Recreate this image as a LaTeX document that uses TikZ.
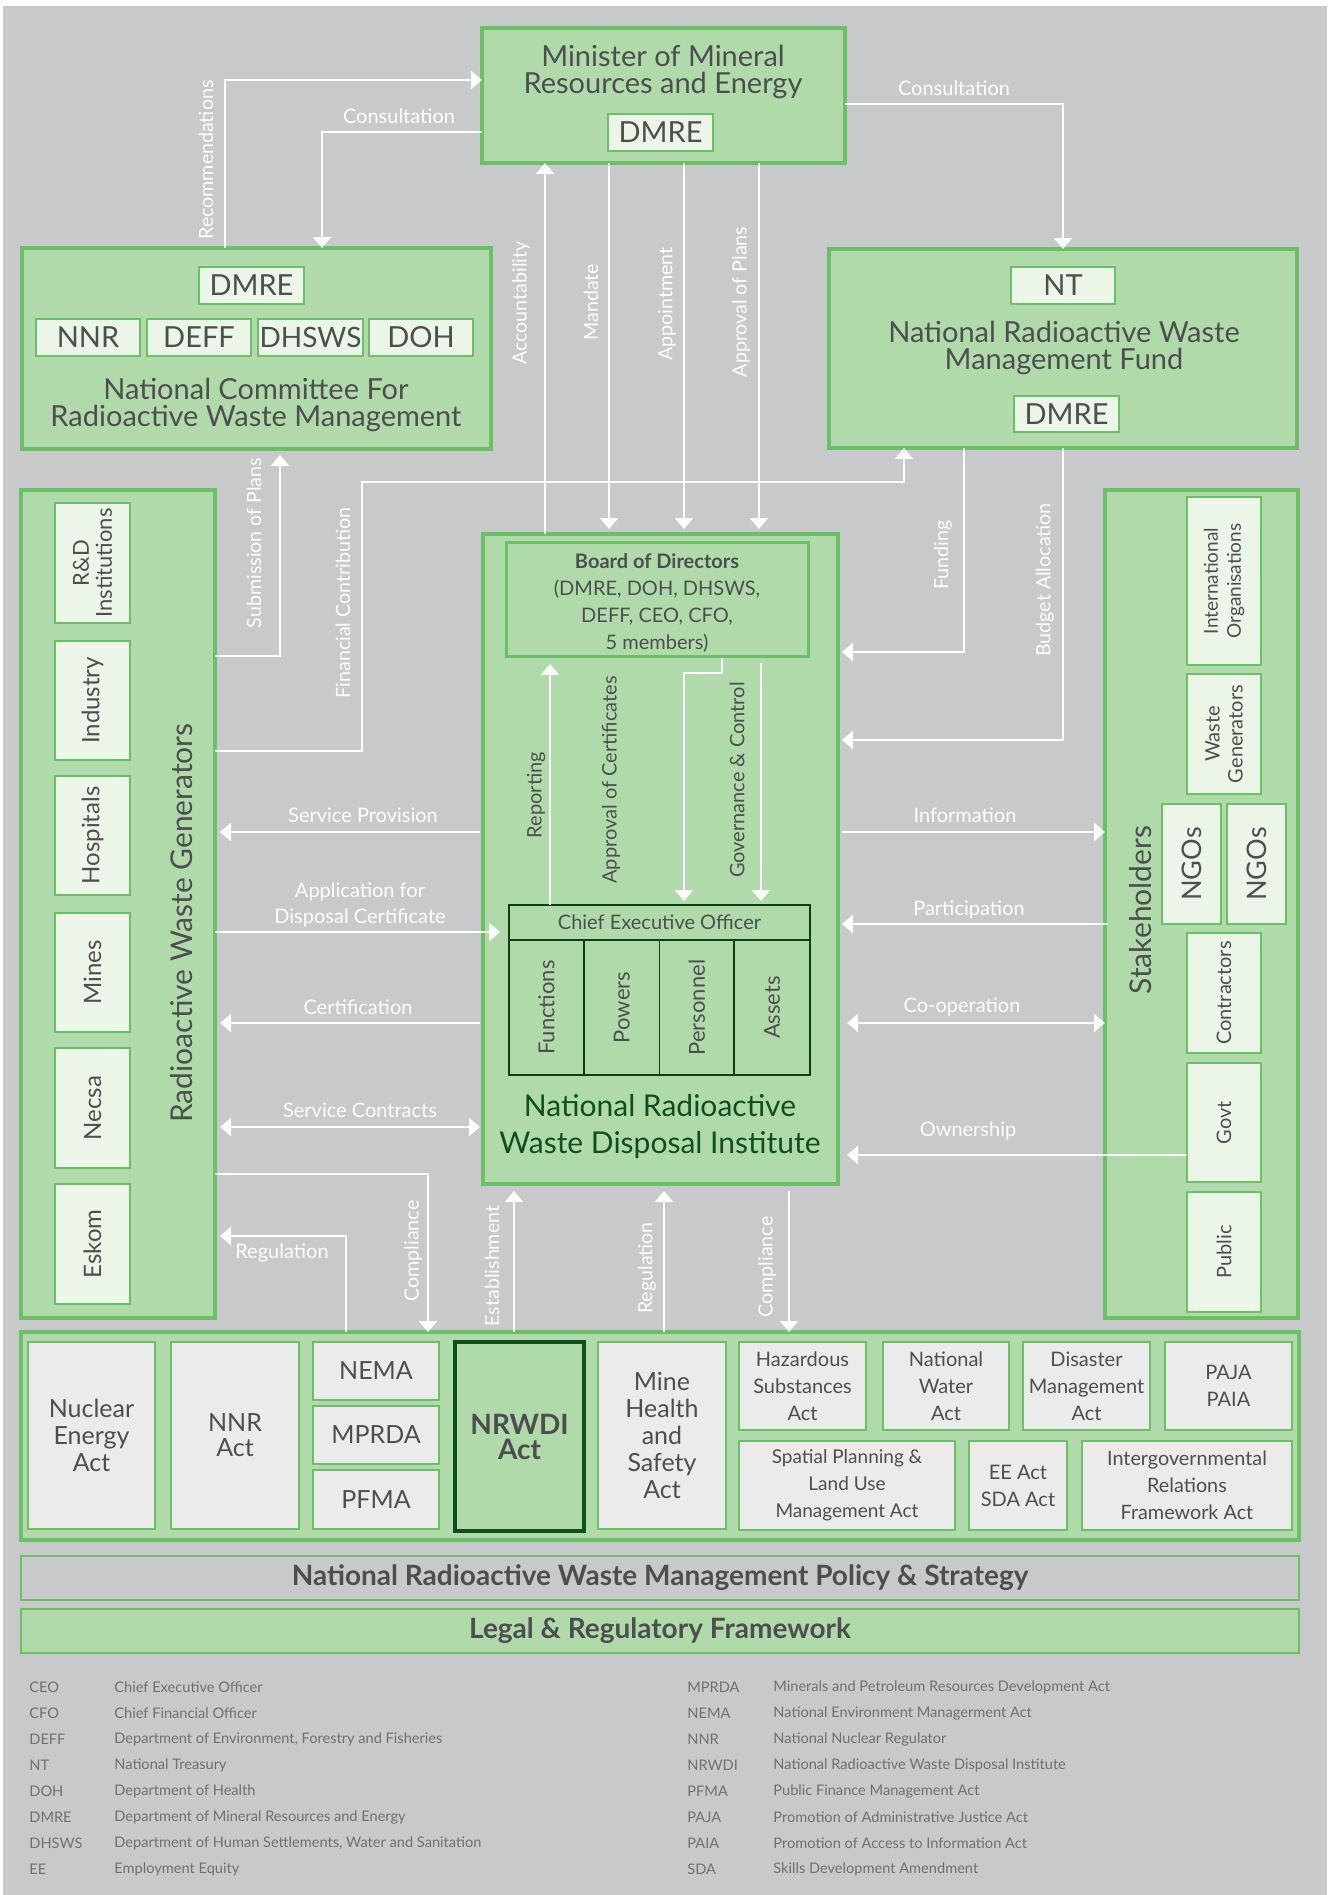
\documentclass[tikz,border=0pt]{standalone}
\usepackage{fontspec}
\setmainfont{Lato}
\usetikzlibrary{arrows.meta}
\definecolor{bg}{HTML}{C8C9CB}
\definecolor{gfill}{HTML}{B1DAAB}
\definecolor{gbord}{HTML}{6ABF67}
\definecolor{glight}{HTML}{EBF5E8}
\definecolor{actg}{HTML}{EBEBEB}
\definecolor{tx}{HTML}{4D4E50}
\definecolor{dkg}{HTML}{0D4F21}
\definecolor{lg}{HTML}{6F7072}
\newcommand\fsz[2]{\fontsize{#1pt}{#2pt}\selectfont}
\newcommand\bx[7]{\node[#6, minimum width={(#4-#2)*0.5pt}, minimum height={(#5-#3)*0.5pt}, inner sep=0pt, outer sep=0pt] (#1) at ({(#2+#4)/2},{(#3+#5)/2}) {#7};}
\begin{document}
\begin{tikzpicture}[x=0.5pt,y=-0.5pt,
  cont/.style={draw=gbord, fill=gfill, line width=1.8pt},
  sub/.style={draw=gbord, fill=glight, line width=0.9pt, text=tx, align=center},
  act/.style={draw=gbord, fill=actg, line width=0.9pt, text=tx, align=center},
  arr/.style={draw=white, line width=1.35pt, -{Triangle[width=9pt,length=5.5pt]}},
  darr/.style={draw=white, line width=1.35pt, {Triangle[width=9pt,length=5.5pt]}-{Triangle[width=9pt,length=5.5pt]}},
  wl/.style={text=white, inner sep=0pt, align=center, font=\fsz{10}{13}},
  wr/.style={text=white, inner sep=0pt, rotate=90, font=\fsz{9.8}{11}},
  gr/.style={text=tx, inner sep=0pt, rotate=90, align=center, font=\fsz{10}{11}},
  ttl/.style={text=tx, inner sep=0pt, align=center, font=\fsz{14.5}{13.5}},
  leg/.style={text=lg, inner sep=0pt, anchor=west, font=\fsz{7.3}{9}}
]
\useasboundingbox (0,0) rectangle (1330,1895);
\fill[white] (0,0) rectangle (1330,1895);
\fill[bg] (3,6) rectangle (1327,1895);

% ---------- Minister ----------
\bx{min}{482}{28}{845}{163}{cont}{}
\node[ttl] (mint) at (663,72) {Minister of Mineral\\Resources and Energy};
\bx{mind}{608}{114}{713}{151}{sub, font=\fsz{14.5}{14}}{DMRE}

% ---------- National Committee ----------
\bx{nc}{22}{248}{491}{449}{cont}{}
\bx{ncd}{199}{267}{304}{304}{sub, font=\fsz{14.5}{14}}{DMRE}
\bx{ncnnr}{36}{319}{140}{356}{sub, font=\fsz{14.5}{14}}{NNR}
\bx{ncdeff}{147}{319}{251}{356}{sub, font=\fsz{14.5}{14}}{DEFF}
\bx{ncdh}{258}{319}{363}{356}{sub, font=\fsz{14}{14}}{DHSWS}
\bx{ncdoh}{369}{319}{473}{356}{sub, font=\fsz{14.5}{14}}{DOH}
\node[ttl] (nct) at (256,405) {National Committee For\\Radioactive Waste Management};

% ---------- Fund ----------
\bx{fund}{829}{249}{1297}{448}{cont}{}
\bx{fnt}{1011}{267}{1115}{304}{sub, font=\fsz{14.5}{14}}{NT}
\node[ttl] (fundt) at (1064,348) {National Radioactive Waste\\Management Fund};
\bx{fdm}{1014}{396}{1119}{432}{sub, font=\fsz{14.5}{14}}{DMRE}

% ---------- Radioactive Waste Generators ----------
\bx{rwg}{21}{490}{215}{1318}{cont}{}
\bx{rd}{55}{503}{130}{623}{sub}{}
\bx{ind}{55}{641}{130}{760}{sub}{}
\bx{hos}{55}{776}{130}{895}{sub}{}
\bx{mines}{55}{913}{130}{1032}{sub}{}
\bx{necsa}{55}{1048}{130}{1168}{sub}{}
\bx{eskom}{55}{1184}{130}{1304}{sub}{}
\node[gr, font=\fsz{11}{11.5}] (rdt) at (rd) {R\&D\\Institutions};
\node[gr, font=\fsz{12}{12}] (indt) at (ind) {Industry};
\node[gr, font=\fsz{12}{12}] (host) at (hos) {Hospitals};
\node[gr, font=\fsz{12}{12}] (minest) at (mines) {Mines};
\node[gr, font=\fsz{12}{12}] (necsat) at (necsa) {Necsa};
\node[gr, font=\fsz{12}{12}] (eskomt) at (eskom) {Eskom};
\node[gr, font=\fsz{15}{15}] (rwgt) at (182,923) {Radioactive Waste Generators};

% ---------- Stakeholders ----------
\bx{stk}{1105}{490}{1298}{1318}{cont}{}
\bx{intl}{1187}{497}{1261}{665}{sub}{}
\bx{wgen}{1187}{674}{1261}{794}{sub}{}
\bx{ngo1}{1162}{804}{1221}{924}{sub}{}
\bx{ngo2}{1227}{804}{1286}{924}{sub}{}
\bx{contr}{1187}{933}{1261}{1053}{sub}{}
\bx{govt}{1187}{1063}{1261}{1182}{sub}{}
\bx{pub}{1187}{1192}{1261}{1312}{sub}{}
\node[gr, font=\fsz{9.5}{11.5}] (intlt) at (intl) {International\\Organisations};
\node[gr, font=\fsz{10}{11.5}] (wgent) at (wgen) {Waste\\Generators};
\node[gr, font=\fsz{13.5}{13}] (ngo1t) at (ngo1) {NGOs};
\node[gr, font=\fsz{13.5}{13}] (ngo2t) at (ngo2) {NGOs};
\node[gr, font=\fsz{10}{11}] (contrt) at (contr) {Contractors};
\node[gr, font=\fsz{10}{11}] (govtt) at (govt) {Govt};
\node[gr, font=\fsz{10}{11}] (pubt) at (pub) {Public};
\node[gr, font=\fsz{15}{15}] (stkt) at (1141,910) {Stakeholders};

% ---------- NRWDI ----------
\bx{nrwdi}{483}{534}{838}{1184}{cont}{}
\bx{board}{506}{542}{808}{656}{draw=gbord, fill=gfill, line width=1.5pt}{}
\node[text=tx, align=center, inner sep=0pt, font=\fsz{10}{13.5}] (boardt) at (657,603) {\textbf{Board of Directors}\\(DMRE, DOH, DHSWS,\\DEFF, CEO, CFO,\\5 members)};
\bx{ceo}{509}{905}{810}{1075}{draw=dkg!80!black, line width=0.8pt}{}
\bx{ceoh}{509}{905}{810}{940}{draw=dkg!80!black, line width=0.8pt, text=tx, font=\fsz{10}{11}}{Chief Executive Officer}
\bx{cf}{509}{940}{584}{1075}{draw=dkg!80!black, line width=0.8pt}{}
\bx{cp}{584}{940}{659.5}{1075}{draw=dkg!80!black, line width=0.8pt}{}
\bx{cpe}{659.5}{940}{734}{1075}{draw=dkg!80!black, line width=0.8pt}{}
\bx{ca}{734}{940}{810}{1075}{draw=dkg!80!black, line width=0.8pt}{}
\node[gr, font=\fsz{11}{11}] (cft) at (cf) {Functions};
\node[gr, font=\fsz{11}{11}] (cpt) at (cp) {Powers};
\node[gr, font=\fsz{11}{11}] (cpet) at (cpe) {Personnel};
\node[gr, font=\fsz{11}{11}] (cat) at (ca) {Assets};
\node[ttl, text=dkg, font=\fsz{15}{18.5}] (nrwdit) at (660,1127) {National Radioactive\\Waste Disposal Institute};

% ---------- Acts ----------
\bx{acts}{21}{1332}{1299}{1540}{cont}{}
\bx{nea}{28}{1342}{155}{1529}{act, font=\fsz{12.5}{13.5}}{Nuclear\\Energy\\Act}
\bx{nnra}{171}{1342}{299}{1529}{act, font=\fsz{12.5}{12.5}}{NNR\\Act}
\bx{nema}{313}{1342}{439}{1400}{act, font=\fsz{12.5}{12.5}}{NEMA}
\bx{mprda}{313}{1406}{439}{1464}{act, font=\fsz{12.5}{12.5}}{MPRDA}
\bx{pfma}{313}{1470}{439}{1529}{act, font=\fsz{12.5}{12.5}}{PFMA}
\bx{nrwdia}{455}{1342}{584}{1531}{draw=dkg, fill=gfill, line width=1.6pt, text=tx, align=center, font=\bfseries\fsz{14}{12.5}}{NRWDI\\Act}
\bx{mhsa}{598}{1342}{726}{1529}{act, font=\fsz{12.5}{13.4}}{Mine\\Health\\and\\Safety\\Act}
\bx{hsa}{739}{1342}{866}{1430}{act, font=\fsz{10}{13.5}}{Hazardous\\Substances\\Act}
\bx{nwa}{883}{1342}{1009}{1430}{act, font=\fsz{10}{13.5}}{National\\Water\\Act}
\bx{dma}{1023}{1342}{1150}{1430}{act, font=\fsz{10}{13.5}}{Disaster\\Management\\Act}
\bx{paja}{1165}{1342}{1292}{1430}{act, font=\fsz{10}{13.5}}{PAJA\\PAIA}
\bx{spl}{739}{1441}{955}{1530}{act, font=\fsz{9.5}{13.5}}{Spatial Planning \&\\Land Use\\Management Act}
\bx{ee}{969}{1441}{1067}{1530}{act, font=\fsz{10}{13.5}}{EE Act\\SDA Act}
\bx{igr}{1082}{1441}{1292}{1530}{act, font=\fsz{9.9}{13.5}}{Intergovernmental\\Relations\\Framework Act}

\bx{policy}{21}{1556}{1299}{1600}{draw=gbord, fill=bg, line width=0.8pt, text=tx, font=\bfseries\fsz{14}{14}}{National Radioactive Waste Management Policy \& Strategy}
\bx{legal}{21}{1609}{1299}{1653}{draw=gbord, fill=gfill, line width=0.8pt, text=tx, font=\bfseries\fsz{14}{14}}{Legal \& Regulatory Framework}

% ---------- Connectors ----------
\draw[arr] (nc.north -| 225,0) |- (min.west |- 0,80);
\draw[arr] (min.west |- 0,132) -| (nc.north -| 322,0);
\draw[arr] (min.east |- 0,104) -| (fund.north);
\draw[arr] (nrwdi.north -| 545,0) -- (min.south -| 545,0);
\draw[arr, shorten >=2.5pt] (min.south -| 609,0) -- (nrwdi.north -| 609,0);
\draw[arr, shorten >=2.5pt] (min.south -| 684,0) -- (nrwdi.north -| 684,0);
\draw[arr, shorten >=2.5pt] (min.south -| 759,0) -- (nrwdi.north -| 759,0);
\draw[arr, shorten >=3pt] (rwg.east |- 0,656) -| (nc.south -| 280,0);
\coordinate (fcb) at (362,482);
\draw[arr] (rwg.east |- 0,751) -| (fcb) -| (fund.south -| 904,0);
\draw[arr, shorten >=2pt] (fund.south -| 964,0) |- (nrwdi.east |- 0,652);
\draw[arr, shorten >=2pt] (fund.south -| 1063,0) |- (nrwdi.east |- 0,740);
\draw[arr, shorten >=4pt] (ceo.north -| 550,0) -- (board.south -| 550,0);
\coordinate (acb) at (684,673);
\draw[arr, shorten <=1pt, shorten >=2pt] (board.south -| 722,0) |- (acb) -- (ceo.north -| 684,0);
\draw[arr, shorten <=3.5pt, shorten >=2pt] (board.south -| 761,0) -- (ceo.north -| 761,0);
\draw[arr, shorten <=1.5pt, shorten >=2.5pt] (nrwdi.west |- 0,832) -- (rwg.east |- 0,832);
\draw[arr, shorten >=4.5pt] (rwg.east |- 0,932) -- (ceo.west |- 0,932);
\draw[arr, shorten <=1.5pt, shorten >=2.5pt] (nrwdi.west |- 0,1023) -- (rwg.east |- 0,1023);
\draw[darr, shorten <=2.5pt, shorten >=1.5pt] (rwg.east |- 0,1127) -- (nrwdi.west |- 0,1127);
\draw[arr, shorten <=2pt] (nrwdi.east |- 0,832) -- (stk.west |- 0,832);
\draw[arr, shorten <=-1.5pt, shorten >=2pt] (stk.west |- 0,924) -- (nrwdi.east |- 0,924);
\draw[darr, shorten <=4.5pt] (nrwdi.east |- 0,1023) -- (stk.west |- 0,1023);
\draw[arr, shorten >=4.5pt] (govt.west |- 0,1155) -- (nrwdi.east |- 0,1155);
\draw[arr] (rwg.east |- 0,1174) -| (acts.north -| 428,0);
\draw[arr, shorten >=2.5pt] (acts.north -| 346,0) |- (rwg.east |- 0,1236);
\draw[arr, shorten >=3.5pt] (acts.north -| 514,0) -- (nrwdi.south -| 514,0);
\draw[arr, shorten >=3.5pt] (acts.north -| 664,0) -- (nrwdi.south -| 664,0);
\draw[arr, shorten <=3.5pt] (nrwdi.south -| 789,0) -- (acts.north -| 789,0);

% ---------- Connector labels ----------
\node[wr] (l1) at (206,160) {Recommendations};
\node[wl] (l2) at (399,116) {Consultation};
\node[wl] (l3) at (954,88) {Consultation};
\node[wr] (l4) at (521,303) {Accountability};
\node[wr] (l5) at (591,302) {Mandate};
\node[wr] (l6) at (667,304) {Appointment};
\node[wr] (l7) at (741,302) {Approval of Plans};
\node[wr] (l8) at (254,543) {Submission of Plans};
\node[wr] (l9) at (343,603) {Financial Contribution};
\node[wr] (l10) at (943,555) {Funding};
\node[wr] (l11) at (1045,580) {Budget Allocation};
\node[gr] (l12) at (536,795) {Reporting};
\node[gr] (l13) at (611,780) {Approval of Certificates};
\node[gr] (l14) at (737,780) {Governance \& Control};
\node[wl] (l15) at (363,815) {Service Provision};
\node[wl] (l16) at (360,905) {Application for\\Disposal Certificate};
\node[wl] (l17) at (358,1007) {Certification};
\node[wl] (l18) at (360,1110) {Service Contracts};
\node[wl] (l19) at (965,815) {Information};
\node[wl] (l20) at (969,910) {Participation};
\node[wl] (l21) at (962,1007) {Co-operation};
\node[wl] (l22) at (968,1131) {Ownership};
\node[wl] (l23) at (282,1253) {Regulation};
\node[wr] (l24) at (413,1251) {Compliance};
\node[wr] (l25) at (492,1266) {Establishment};
\node[wr] (l26) at (647,1268) {Regulation};
\node[wr] (l27) at (767,1267) {Compliance};

% ---------- Legend ----------
\foreach \a/\d [count=\i from 0] in {CEO/Chief Executive Officer, CFO/Chief Financial Officer, DEFF/{Department of Environment, Forestry and Fisheries}, NT/National Treasury, DOH/Department of Health, DMRE/Department of Mineral Resources and Energy, DHSWS/{Department of Human Settlements, Water and Sanitation}, EE/Employment Equity}{
  \node[leg] (la\i) at (29,1687+26*\i) {\a};
  \node[leg] (ld\i) at (114,1687+26*\i) {\d};
}
\foreach \a/\d [count=\i from 0] in {MPRDA/Minerals and Petroleum Resources Development Act, NEMA/National Environment Managerment Act, NNR/National Nuclear Regulator, NRWDI/National Radioactive Waste Disposal Institute, PFMA/Public Finance Management Act, PAJA/Promotion of Administrative Justice Act, PAIA/Promotion of Access to Information Act, SDA/Skills Development Amendment}{
  \node[leg] (ra\i) at (687,1687+26*\i) {\a};
  \node[leg] (rd\i) at (773,1687+26*\i) {\d};
}
\end{tikzpicture}
\end{document}
